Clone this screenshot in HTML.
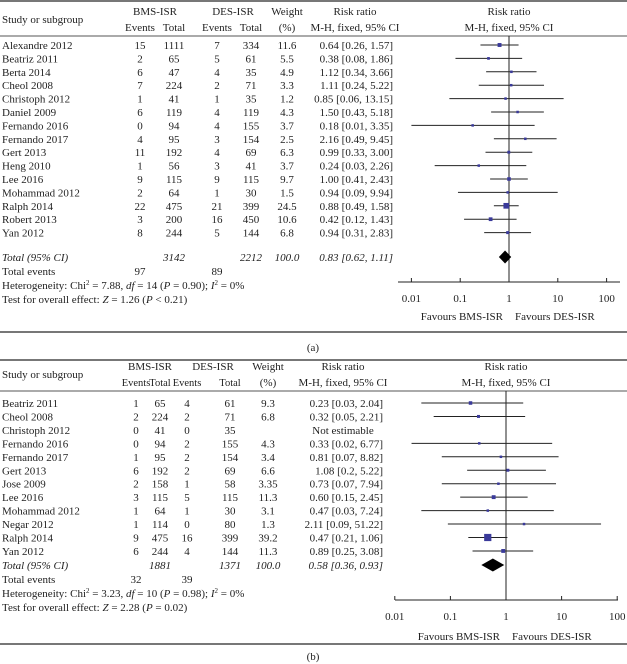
<!DOCTYPE html>
<html><head><meta charset="utf-8"><style>
html,body{margin:0;padding:0;background:#fff;}
svg{display:block;font-family:"Liberation Serif",serif;font-size:11px;fill:#222;}
</style></head><body>
<svg id="c" width="627" height="664" viewBox="0 0 627 664"></svg>
<script>
// Panel (a) data
const studiesA = ["Alexandre 2012","Beatriz 2011","Berta 2014","Cheol 2008","Christoph 2012","Daniel 2009","Fernando 2016","Fernando 2017","Gert 2013","Heng 2010","Lee 2016","Mohammad 2012","Ralph 2014","Robert 2013","Yan 2012"];
const bmsEventsA = [15,2,6,7,1,6,0,4,11,1,9,2,22,3,8];
const bmsTotalA = [1111,65,47,224,41,119,94,95,192,56,115,64,475,200,244];
const desEventsA = [7,5,4,2,1,4,4,3,4,3,9,1,21,16,5];
const desTotalA = [334,61,35,71,35,119,155,154,69,41,115,30,399,450,144];
const weightA = [11.6,5.5,4.9,3.3,1.2,4.3,3.7,2.5,6.3,3.7,9.7,1.5,24.5,10.6,6.8];
const rrA = [0.64,0.38,1.12,1.11,0.85,1.50,0.18,2.16,0.99,0.24,1.00,0.94,0.88,0.42,0.94];
const loA = [0.26,0.08,0.34,0.24,0.06,0.43,0.01,0.49,0.33,0.03,0.41,0.09,0.49,0.12,0.31];
const hiA = [1.57,1.86,3.66,5.22,13.15,5.18,3.35,9.45,3.00,2.26,2.43,9.94,1.58,1.43,2.83];
const totalA = {rr:0.83, lo:0.62, hi:1.11};
// Panel (b) data
const studiesB = ["Beatriz 2011","Cheol 2008","Christoph 2012","Fernando 2016","Fernando 2017","Gert 2013","Jose 2009","Lee 2016","Mohammad 2012","Negar 2012","Ralph 2014","Yan 2012"];
const bmsEventsB = [1,2,0,0,1,6,2,3,1,1,9,6];
const bmsTotalB = [65,224,41,94,95,192,158,115,64,114,475,244];
const desEventsB = [4,2,0,2,2,2,1,5,1,0,16,4];
const desTotalB = [61,71,35,155,154,69,58,115,30,80,399,144];
const weightB = [9.3,6.8,null,4.3,3.4,6.6,3.35,11.3,3.1,1.3,39.2,11.3];
const rrB = [0.23,0.32,null,0.33,0.81,1.08,0.73,0.60,0.47,2.11,0.47,0.89];
const loB = [0.03,0.05,null,0.02,0.07,0.2,0.07,0.15,0.03,0.09,0.21,0.25];
const hiB = [2.04,2.21,null,6.77,8.82,5.22,7.94,2.45,7.24,51.22,1.06,3.08];
const rrTextB = ["0.23 [0.03, 2.04]","0.32 [0.05, 2.21]","Not estimable","0.33 [0.02, 6.77]","0.81 [0.07, 8.82]","1.08 [0.2, 5.22]","0.73 [0.07, 7.94]","0.60 [0.15, 2.45]","0.47 [0.03, 7.24]","2.11 [0.09, 51.22]","0.47 [0.21, 1.06]","0.89 [0.25, 3.08]"];
const totalB = {rr:0.58, lo:0.36, hi:0.93};
const ticks = [0.01,0.1,1,10,100];
const tickLabels = ["0.01","0.1","1","10","100"];

const NS="http://www.w3.org/2000/svg";
const svg=document.getElementById('c');
function el(tag,attrs,parent){const e=document.createElementNS(NS,tag);for(const k in attrs)e.setAttribute(k,attrs[k]);(parent||svg).appendChild(e);return e;}
function txt(x,y,s,anchor,name,extra){const t=el('text',Object.assign({x:x,y:y,'text-anchor':anchor||'start'},extra||{}));t.textContent=s;


return t;}
function line(x1,y1,x2,y2,name,stroke,w){const l=el('line',{x1,y1,x2,y2,stroke:stroke||'#222','stroke-width':w||1});


return l;}
const fmt=v=>v.toFixed(2);

function panel(o){
  const xs=v=>o.x1+o.dec*Math.log10(v);
  const hf={'font-size':o.hfs||11};
  line(0,o.top,627,o.top,'top-border','#777',2);
  txt(2,o.hy+8,'Study or subgroup','start','study-header');
  txt(o.c.bh,o.hy,'BMS-ISR','middle','bms-header');
  txt(o.c.dh,o.hy,'DES-ISR','middle','des-header');
  txt(o.c.w,o.hy,'Weight','middle','weight-header');
  txt(o.c.w,o.hy+16,'(%)','middle','weight-unit');
  txt(o.c.be,o.hy+16,'Events','middle','bms-events-header',hf);
  txt(o.c.bt,o.hy+16,'Total','middle','bms-total-header',hf);
  txt(o.c.de,o.hy+16,'Events','middle','des-events-header',hf);
  txt(o.c.dt,o.hy+16,'Total','middle','des-total-header',hf);
  txt(o.c.rrc,o.hy,'Risk ratio','middle','rr-text-header');
  txt(o.c.rrc,o.hy+16,'M-H, fixed, 95% CI','middle','rr-text-subheader');
  txt(o.x1,o.hy,'Risk ratio','middle','rr-plot-header');
  txt(o.x1,o.hy+16,'M-H, fixed, 95% CI','middle','rr-plot-subheader');
  line(0,o.rule,627,o.rule,'header-rule','#555',1);
  line(o.x1,o.rule,o.x1,o.axisY,'null-line','#222',1);
  o.studies.forEach((s,i)=>{
    const y=o.y0+i*o.dy;
    txt(2,y+4,s,'start','study-label');
    txt(o.c.be,y+4,String(o.be[i]),'middle','bms-events');
    txt(o.c.bt,y+4,String(o.bt[i]),'middle','bms-total');
    txt(o.c.de,y+4,String(o.de[i]),'middle','des-events');
    txt(o.c.dt,y+4,String(o.dt[i]),'middle','des-total');
    if(o.w[i]!=null) txt(o.c.w,y+4,String(o.w[i]),'middle','weight-value');
    const s2=o.rrText?o.rrText[i]:fmt(o.rr[i])+' ['+fmt(o.lo[i])+', '+fmt(o.hi[i])+']';
    txt(o.c.rre,y+4,s2,o.rrText&&o.rr[i]==null?'middle':'end','rr-value',o.rrText&&o.rr[i]==null?{x:o.c.rre-40}:{});
    if(o.rr[i]!=null){
      line(xs(o.lo[i]),y,xs(o.hi[i]),y,'ci-line','#222',1);
      const sz=Math.max(2.5,Math.sqrt(o.w[i])*1.15);
      const r=el('rect',{x:xs(o.rr[i])-sz/2,y:y-sz/2,width:sz,height:sz,fill:'#3a3a9a'});
      
      
    }
  });
  const ty=o.totY;
  txt(2,ty+4,'Total (95% CI)','start','total-label',{'font-style':'italic'});
  txt(o.c.bt,ty+4,String(o.sumB),'middle','bms-sum',{'font-style':'italic'});
  txt(o.c.dt,ty+4,String(o.sumD),'middle','des-sum',{'font-style':'italic'});
  txt(o.c.w,ty+4,'100.0','middle','weight-sum',{'font-style':'italic'});
  txt(o.c.rre,ty+4,fmt(o.tot.rr)+' ['+fmt(o.tot.lo)+', '+fmt(o.tot.hi)+']','end','total-rr',{'font-style':'italic'});
  const d=el('polygon',{points:[xs(o.tot.lo)+','+ty,xs(o.tot.rr)+','+(ty-6.5),xs(o.tot.hi)+','+ty,xs(o.tot.rr)+','+(ty+6.5)].join(' '),fill:'#000'});
  
  
  txt(2,ty+18,'Total events','start','total-events-label');
  txt(o.c.be,ty+18,String(o.evB),'middle','bms-events-total');
  txt(o.c.de,ty+18,String(o.evD),'middle','des-events-total');
  const h=el('text',{x:2,y:ty+32});
  
  
  h.innerHTML='Heterogeneity: Chi<tspan dy="-4" font-size="7">2</tspan><tspan dy="4"> = '+o.chi+', </tspan><tspan font-style="italic">df</tspan> = '+o.df+' (<tspan font-style="italic">P</tspan> = '+o.p+'); <tspan font-style="italic">I</tspan><tspan dy="-4" font-size="7">2</tspan><tspan dy="4"> = 0%</tspan>';
  const t=el('text',{x:2,y:ty+46});
  
  
  t.innerHTML='Test for overall effect: <tspan font-style="italic">Z</tspan> = '+o.z+' (<tspan font-style="italic">P</tspan> '+o.zp+')';
  line(o.axL,o.axisY,o.axR,o.axisY,'x-axis','#222',1);
  ticks.forEach((v,i)=>{
    line(xs(v),o.axisY-4,xs(v),o.axisY,'x-tick','#222',1);
    txt(xs(v),o.axisY+20,tickLabels[i],'middle','x-tick-label');
  });
  txt(o.x1-6,o.favY,'Favours BMS-ISR','end','favours-bms');
  txt(o.x1+6,o.favY,'Favours DES-ISR','start','favours-des');
  line(0,o.bot,627,o.bot,'bottom-border','#777',2);
  txt(313,o.capY,o.cap,'middle','panel-caption');
}

panel({top:1,hy:15,rule:36,y0:45,dy:13.4,totY:257,axisY:282,favY:320,bot:332,capY:351,cap:'(a)',
  x1:509,dec:48.8,axL:398,axR:620,
  c:{bh:155,dh:233,be:140,bt:174,de:217,dt:251,w:287,rrc:355,rre:393},
  studies:studiesA,be:bmsEventsA,bt:bmsTotalA,de:desEventsA,dt:desTotalA,w:weightA,rr:rrA,lo:loA,hi:hiA,tot:totalA,
  sumB:3142,sumD:2212,evB:97,evD:89,chi:'7.88',df:'14',p:'0.90',z:'1.26',zp:'< 0.21'});

panel({top:360,hy:370,rule:391,y0:403,dy:13.45,totY:565,axisY:600,favY:640,bot:644,capY:660,cap:'(b)',hfs:10.5,
  x1:506,dec:55.6,axL:395,axR:618,
  c:{bh:150,dh:213,be:136,bt:160,de:187,dt:230,w:268,rrc:343,rre:383},
  studies:studiesB,be:bmsEventsB,bt:bmsTotalB,de:desEventsB,dt:desTotalB,w:weightB,rr:rrB,lo:loB,hi:hiB,rrText:rrTextB,tot:totalB,
  sumB:1881,sumD:1371,evB:32,evD:39,chi:'3.23',df:'10',p:'0.98',z:'2.28',zp:'= 0.02'});
</script>
</body></html>
